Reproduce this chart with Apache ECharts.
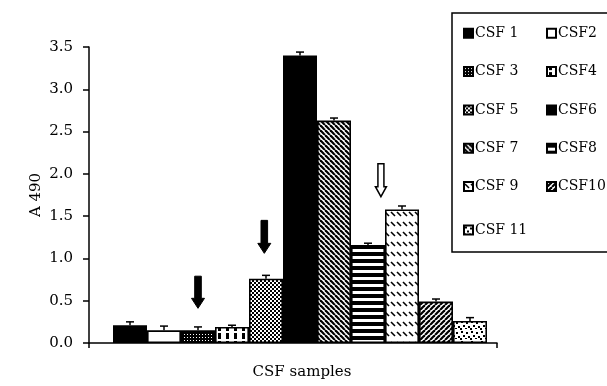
<!DOCTYPE html>
<html>
<head>
<meta charset="utf-8">
<script src="https://cdn.jsdelivr.net/npm/echarts@6/dist/echarts.min.js"></script>
<style>html,body{margin:0;padding:0;background:#fff;}#c{width:607px;height:386px;}</style>
</head>
<body>
<div id="c"></div>
<script>
// ---- data ----
var categories = ['CSF samples'];
var seriesNames = ['CSF 1','CSF2','CSF 3','CSF4','CSF 5','CSF6','CSF 7','CSF8','CSF 9','CSF10','CSF 11'];
var values = [0.21, 0.15, 0.15, 0.19, 0.76, 3.40, 2.63, 1.16, 1.58, 0.49, 0.26];
var errors = [0.04, 0.05, 0.04, 0.02, 0.04, 0.04, 0.03, 0.02, 0.04, 0.03, 0.04];
var yTicks = [0, 0.5, 1.0, 1.5, 2.0, 2.5, 3.0, 3.5];
// annotation arrows: bar slot, tail value, tip value, filled?
var arrowSlots = [2, 3.95, 7.38];
var arrowTails = [0.79, 1.45, 2.12];
var arrowTips  = [0.41, 1.06, 1.73];
var arrowFilled = [1, 1, 0];

var FONT = 'DejaVu Serif';
var BAR_W = 34, SPACER_W = 14, N = values.length;

function pat(w, h, draw) {
  var c = document.createElement('canvas');
  c.width = w; c.height = h;
  var ctx = c.getContext('2d');
  ctx.fillStyle = '#fff'; ctx.fillRect(0, 0, w, h);
  ctx.fillStyle = '#000'; ctx.strokeStyle = '#000';
  draw(ctx, w, h);
  return { image: c, repeat: 'repeat' };
}
function diag(ctx, w, h, lw, down) {
  ctx.lineWidth = lw;
  for (var k = -1; k <= 1; k++) {
    ctx.beginPath();
    if (down) { ctx.moveTo(k * w, 0); ctx.lineTo(k * w + w, h); }
    else { ctx.moveTo(k * w, h); ctx.lineTo(k * w + w, 0); }
    ctx.stroke();
  }
}
var fills = [
  '#000',
  '#fff',
  pat(3, 3, function (c) { c.fillRect(0, 0, 3, 3); c.fillStyle = '#fff'; c.fillRect(1, 1, 1, 1); }),
  pat(8, 8, function (c) { c.fillRect(2, 0, 3, 3); c.fillRect(2, 5, 3, 3); }),
  pat(4, 4, function (c) { c.fillRect(0, 0, 2, 2); c.fillRect(2, 2, 2, 2); }),
  '#000',
  pat(5, 5, function (c, w, h) { diag(c, w, h, 2.2, true); }),
  pat(1, 7, function (c) { c.fillRect(0, 0, 1, 4); }),
  pat(6, 10, function (c) { c.lineWidth = 1.6; c.beginPath(); c.moveTo(1, 2); c.lineTo(5, 6); c.stroke(); }),
  pat(5, 5, function (c, w, h) { diag(c, w, h, 2.2, false); }),
  pat(10, 10, function (c) {
    c.fillRect(1, 1, 2, 2); c.fillRect(6, 2, 2, 2); c.fillRect(3, 5, 2, 2);
    c.fillRect(8, 6, 2, 2); c.fillRect(0, 8, 2, 2); c.fillRect(5, 8, 2, 1);
  })
];

var series = [{
  type: 'bar', name: 'spacer', data: [null], barWidth: SPACER_W, barGap: 0, silent: true
}];
for (var i = 0; i < N; i++) {
  series.push({
    type: 'bar', name: seriesNames[i], data: [values[i]],
    barWidth: BAR_W, barGap: 0,
    itemStyle: { color: fills[i], borderColor: '#000', borderWidth: 1.6 }
  });
}
function slotX(api, slot) {
  var base = api.coord([0, 0])[0];
  var total = SPACER_W + N * BAR_W;
  return base - total / 2 + SPACER_W + slot * BAR_W + BAR_W / 2;
}
var errData = values.map(function (v, i) { return [0, v, errors[i], i]; });
series.push({
  type: 'custom', name: 'err', data: errData, z: 5, silent: true,
  renderItem: function (params, api) {
    var x = slotX(api, api.value(3));
    var v = api.value(1), e = api.value(2);
    var y1 = api.coord([0, v])[1], y2 = api.coord([0, v + e])[1];
    return { type: 'group', children: [
      { type: 'line', shape: { x1: x, y1: y1, x2: x, y2: y2 }, style: { stroke: '#000', lineWidth: 1.5 } },
      { type: 'line', shape: { x1: x - 4, y1: y2, x2: x + 4, y2: y2 }, style: { stroke: '#000', lineWidth: 1.5 } }
    ] };
  }
});
var arrowData = arrowSlots.map(function (s, i) { return [0, arrowTails[i], arrowTips[i], s, arrowFilled[i]]; });
series.push({
  type: 'custom', name: 'arrows', data: arrowData, z: 6, silent: true,
  renderItem: function (params, api) {
    var x = slotX(api, api.value(3));
    var yt = api.coord([0, api.value(1)])[1], yp = api.coord([0, api.value(2)])[1];
    var filled = api.value(4) === 1;
    var sw = filled ? 3.3 : 3, hw = filled ? 6.5 : 5.5, hl = 10;
    var pts = [[x - sw, yt], [x + sw, yt], [x + sw, yp - hl], [x + hw, yp - hl], [x, yp], [x - hw, yp - hl], [x - sw, yp - hl]];
    return { type: 'polygon', shape: { points: pts },
      style: filled ? { fill: '#000', stroke: '#000', lineWidth: 1 } : { fill: '#fff', stroke: '#000', lineWidth: 1.5 } };
  }
});

var legendText = { fontFamily: FONT, fontSize: 14, color: '#000', lineHeight: 16, padding: [0, 0, 0, -3] };
function mkLegend(names, left, top) {
  return { data: names, orient: 'vertical', left: left, top: top, padding: 0,
    itemWidth: 9, itemHeight: 9, itemGap: 22.3, icon: 'rect', selectedMode: false,
    textStyle: legendText };
}

var chart = echarts.init(document.getElementById('c'));
chart.setOption({
  animation: false,
  backgroundColor: '#fff',
  grid: { left: 89, right: 110, top: 47, bottom: 43 },
  graphic: [{ type: 'rect', shape: { x: 452, y: 13, width: 200, height: 239 },
    style: { fill: 'none', stroke: '#000', lineWidth: 1.5 }, z: 0 }],
  legend: [
    mkLegend(['CSF 1', 'CSF 3', 'CSF 5', 'CSF 7', 'CSF 9'], 463, 25.3),
    mkLegend(['CSF2', 'CSF4', 'CSF6', 'CSF8', 'CSF10'], 546, 25.3),
    mkLegend(['CSF 11'], 463, 222)
  ],
  xAxis: {
    type: 'category', data: categories,
    name: 'CSF samples', nameLocation: 'middle', nameGap: 22, nameMoveOverlap: false,
    nameTextStyle: { fontFamily: FONT, fontSize: 15, color: '#000', padding: [0, 0, 0, 18] },
    axisLine: { lineStyle: { color: '#000', width: 1.5 } },
    axisTick: { show: true, length: 5, lineStyle: { color: '#000', width: 1.5 } },
    axisLabel: { show: false }, splitLine: { show: false }
  },
  yAxis: {
    type: 'value', min: 0, max: 3.5, interval: 0.5,
    name: 'A 490', nameLocation: 'middle', nameGap: 45, nameMoveOverlap: false,
    nameTextStyle: { fontFamily: FONT, fontSize: 15, color: '#000' },
    axisLine: { show: true, lineStyle: { color: '#000', width: 1.5 } },
    axisTick: { show: true, length: 6, lineStyle: { color: '#000', width: 1.5 } },
    axisLabel: { fontFamily: FONT, fontSize: 15, color: '#000', margin: 16,
      formatter: function (v) { return yTicks.indexOf(v) >= 0 ? v.toFixed(1) : ''; } },
    splitLine: { show: false }
  },
  series: series
});
</script>
</body>
</html>
